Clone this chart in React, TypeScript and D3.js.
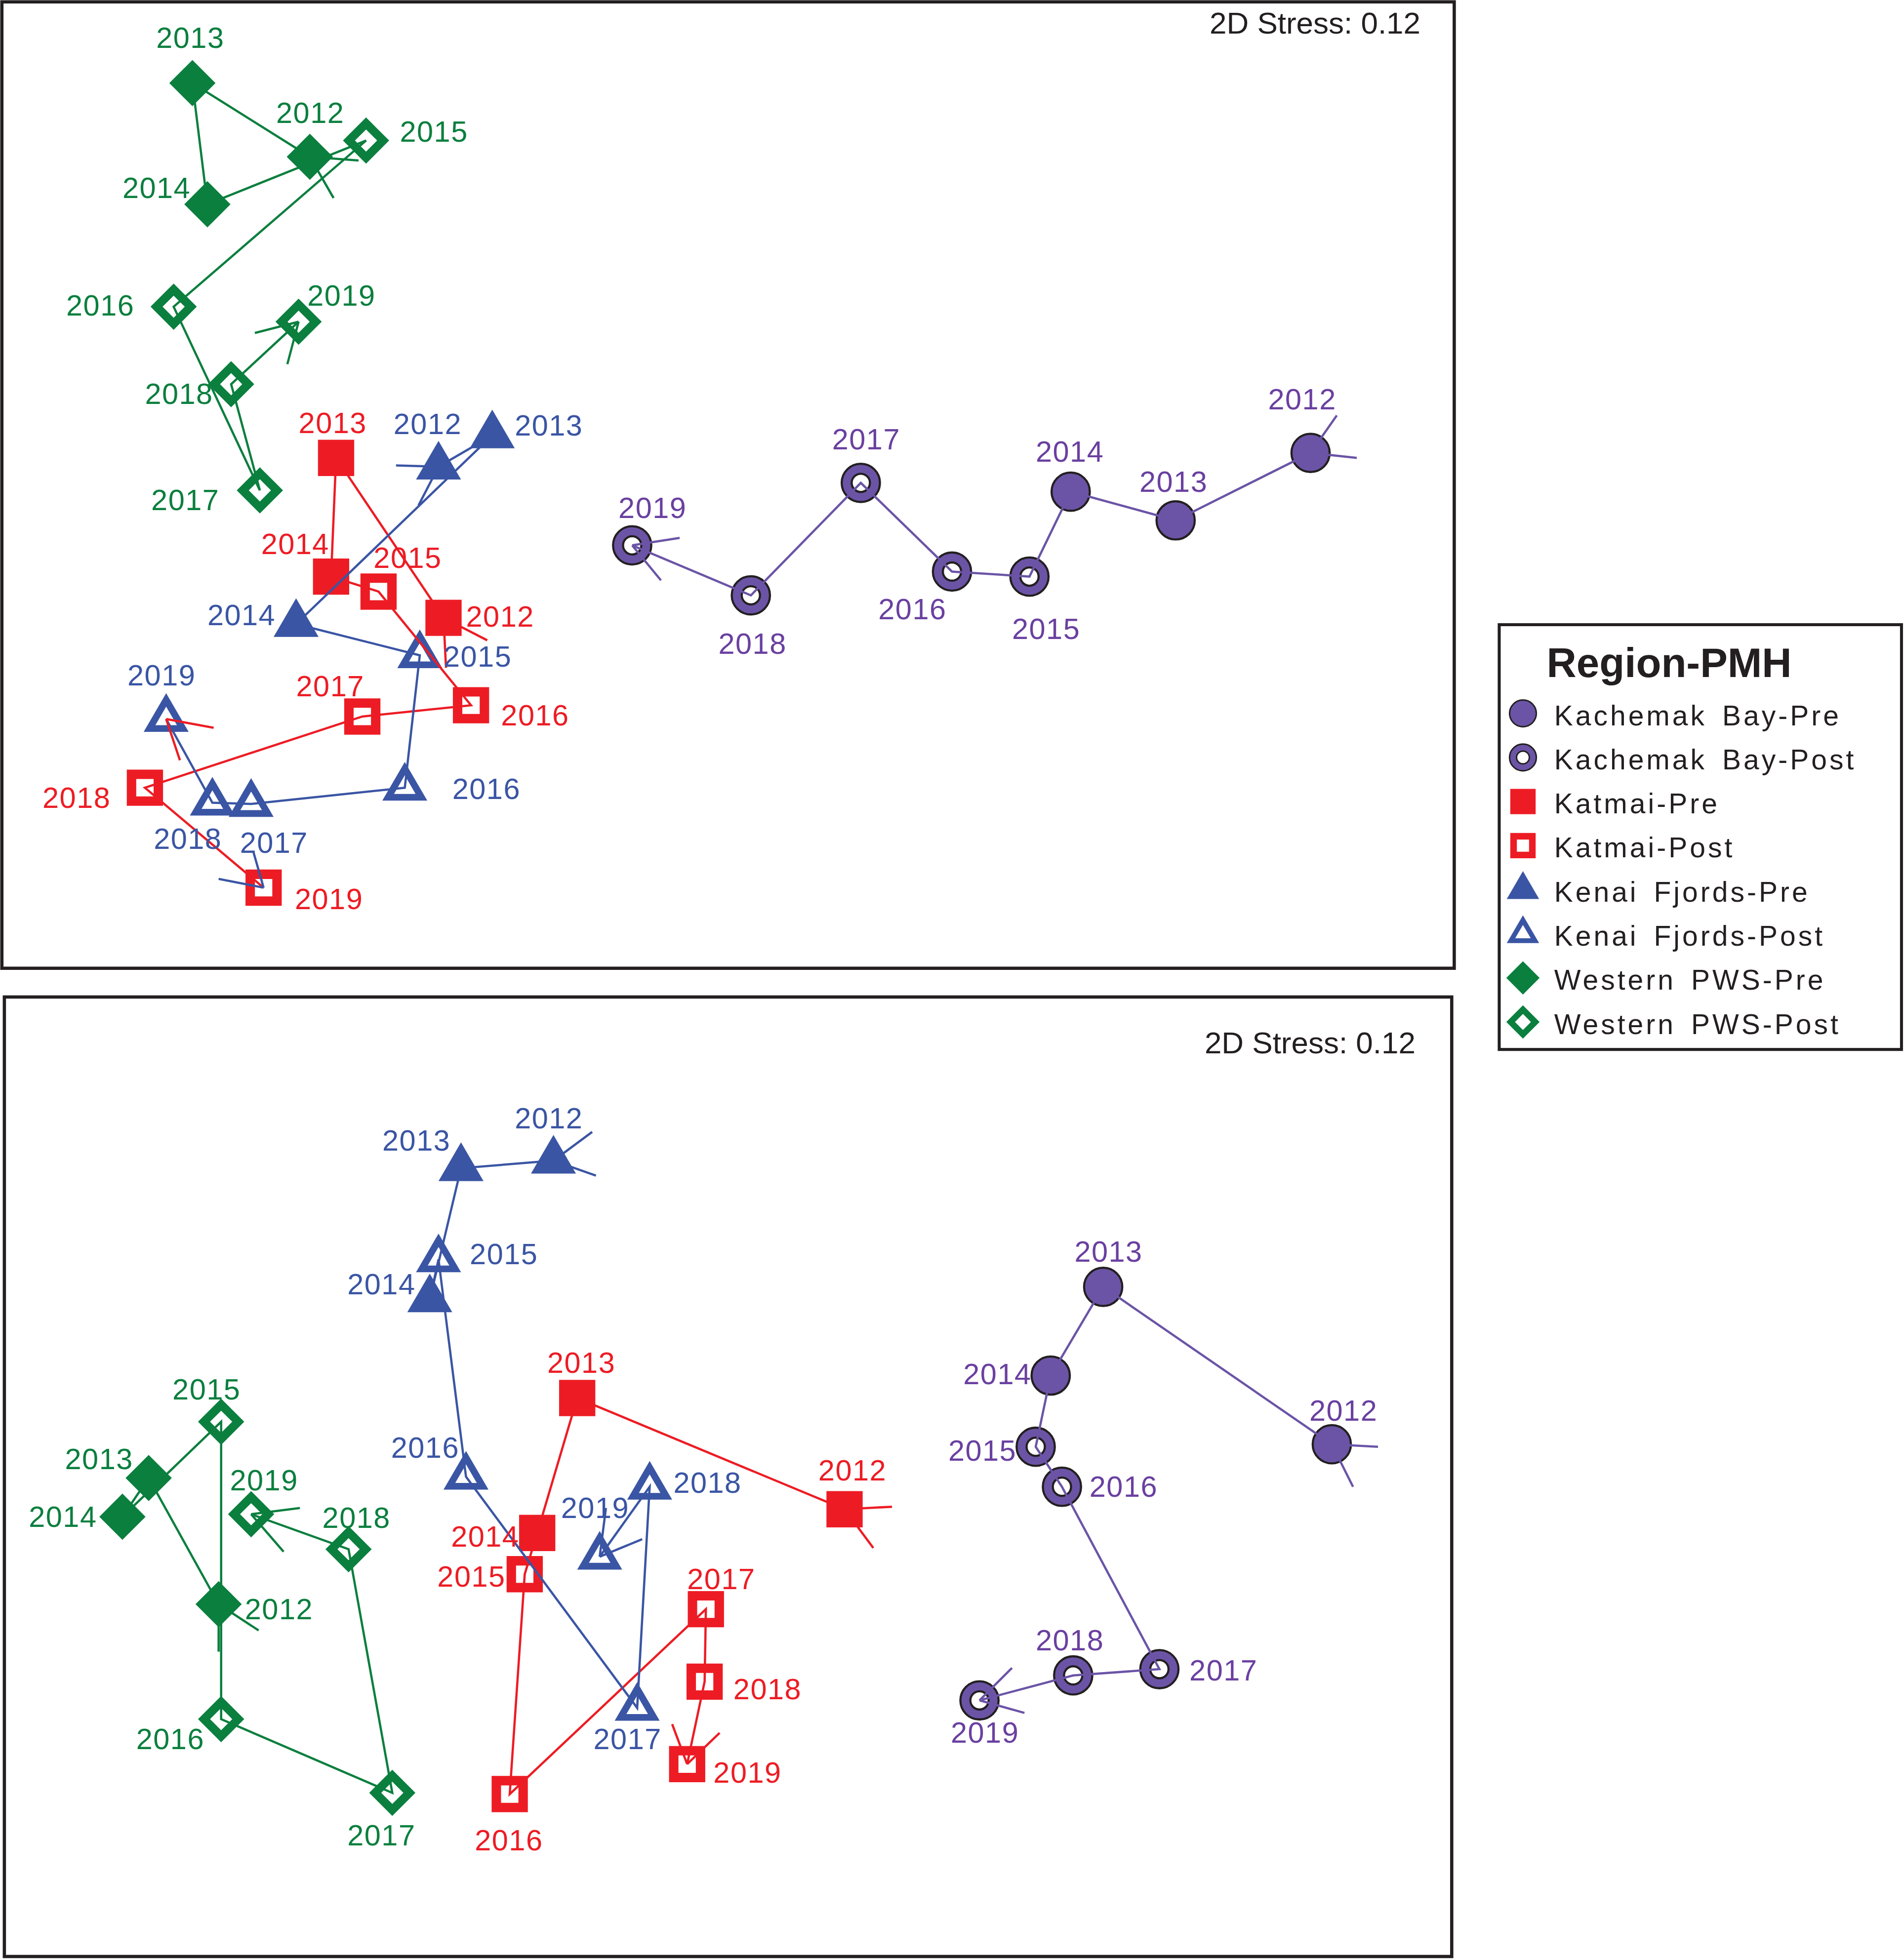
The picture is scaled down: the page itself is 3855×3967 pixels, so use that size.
import React from 'react';
import * as d3 from 'd3';

// sampling years; 2012-2014 are pre-heatwave, 2015-2019 post
const years = [2012, 2013, 2014, 2015, 2016, 2017, 2018, 2019];
const regions = ['Kachemak Bay', 'Katmai', 'Kenai Fjords', 'Western PWS'];
const firstPostYear = 2015;
const periods = ['Pre', 'Post'];
const legendTitle = 'Region-PMH';
const stressLabel = '2D Stress: 0.12';

// ordination coordinates, upper plot (plot units, y runs downwards)
const topKachemakX = [1049, 941, 857, 824, 762, 689, 601, 506];
const topKachemakY = [362, 416, 393, 461, 457, 386, 476, 436];
const topKatmaiX = [355, 269, 265, 303, 377, 290, 116, 211];
const topKatmaiY = [494, 366, 461, 473, 564, 573, 630, 710];
const topKenaiX = [351, 394, 237, 336, 324, 201, 170, 133];
const topKenaiY = [373, 348, 499, 524, 630, 643, 642, 575];
const topWesternX = [248, 154, 166, 293, 139, 208, 185, 239];
const topWesternY = [125, 66, 163, 112, 245, 392, 307, 257];

// ordination coordinates, lower plot
const botKachemakX = [1066, 883, 841, 829, 850, 928, 859, 784];
const botKachemakY = [359, 233, 304, 361, 393, 539, 544, 564];
const botKatmaiX = [676, 462, 430, 420, 408, 565, 564, 550];
const botKatmaiY = [411, 322, 430, 463, 639, 491, 549, 615];
const botKenaiX = [443, 369, 344, 351, 373, 510, 520, 480];
const botKenaiY = [132, 138, 243, 211, 385, 570, 393, 449];
const botWesternX = [175, 119, 98, 177, 177, 314, 279, 201];
const botWesternY = [487, 386, 417, 341, 579, 638, 443, 415];

// short end ticks of each trajectory (plot units)
const topEndTicks = [
  { region: 'Kachemak Bay', year: 2012, ends: [[1070, 332], [1086, 366]] },
  { region: 'Kachemak Bay', year: 2019, ends: [[544, 430], [529, 464]] },
  { region: 'Katmai', year: 2012, ends: [[390, 512], [357, 534]] },
  { region: 'Katmai', year: 2019, ends: [[175, 703], [203, 682]], ink: 'Kenai Fjords' },
  { region: 'Kenai Fjords', year: 2012, ends: [[317, 372], [335, 404]] },
  { region: 'Kenai Fjords', year: 2019, ends: [[171, 582], [144, 608]], ink: 'Katmai' },
  { region: 'Western PWS', year: 2012, ends: [[267, 158], [287, 128]] },
  { region: 'Western PWS', year: 2019, ends: [[204, 266], [230, 291]] },
];
const botEndTicks = [
  { region: 'Kachemak Bay', year: 2012, ends: [[1103, 361], [1083, 393]] },
  { region: 'Kachemak Bay', year: 2019, ends: [[810, 538], [820, 574]] },
  { region: 'Katmai', year: 2012, ends: [[714, 409], [699, 442]] },
  { region: 'Katmai', year: 2019, ends: [[538, 583], [576, 590]] },
  { region: 'Kenai Fjords', year: 2012, ends: [[474, 109], [477, 144]] },
  { region: 'Kenai Fjords', year: 2019, ends: [[514, 435], [485, 410]] },
  { region: 'Western PWS', year: 2012, ends: [[207, 508], [175, 525]] },
  { region: 'Western PWS', year: 2019, ends: [[240, 410], [227, 445]] },
];

const topData: Record<string, { x: number[]; y: number[] }> = {
  'Kachemak Bay': { x: topKachemakX, y: topKachemakY },
  Katmai: { x: topKatmaiX, y: topKatmaiY },
  'Kenai Fjords': { x: topKenaiX, y: topKenaiY },
  'Western PWS': { x: topWesternX, y: topWesternY },
};
const botData: Record<string, { x: number[]; y: number[] }> = {
  'Kachemak Bay': { x: botKachemakX, y: botKachemakY },
  Katmai: { x: botKatmaiX, y: botKatmaiY },
  'Kenai Fjords': { x: botKenaiX, y: botKenaiY },
  'Western PWS': { x: botWesternX, y: botWesternY },
};

// where each year label sits relative to its point (px: text start, baseline)
const topNudge: Record<string, number[][]> = {
  'Kachemak Bay': [[-34, -35], [-29, -23], [-28, -24], [-14, 50], [-59, 38], [-23, -27], [-26, 47], [-11, -22]],
  Katmai: [[18, 7], [-30, -20], [-56, -18], [-4, -19], [24, 16], [-53, -16], [-82, 16], [25, 17]],
  'Kenai Fjords': [[-36, -26], [18, 0], [-71, 1], [19, 9], [38, 9], [-9, 39], [-47, 37], [-31, -27]],
  'Western PWS': [[-27, -27], [-29, -28], [-68, -5], [27, 1], [-86, 7], [-87, 16], [-69, 16], [7, -13]],
};
const botNudge: Record<string, number[][]> = {
  'Kachemak Bay': [[-18, -19], [-23, -20], [-70, 7], [-70, 11], [22, 8], [24, 9], [-30, -20], [-23, 34]],
  Katmai: [[-21, -23], [-24, -20], [-69, 11], [-70, 10], [-28, 45], [-15, -16], [23, 14], [21, 15]],
  'Kenai Fjords': [[-31, -26], [-63, -14], [-66, -4], [25, 4], [-60, -15], [-35, 33], [19, 5], [-31, -31]],
  'Western PWS': [[21, 12], [-67, -7], [-75, 8], [-39, -18], [-68, 24], [-36, 42], [-21, -17], [-17, -19]],
};

const FONT = '"Liberation Sans", Arial, Helvetica, sans-serif';
const INK = '#231F20';
const colors: Record<string, string> = {
  'Kachemak Bay': '#6B54A6',
  Katmai: '#ED1C24',
  'Kenai Fjords': '#3A55A4',
  'Western PWS': '#0B7F3E',
};
const textColors: Record<string, string> = { ...colors, 'Kachemak Bay': '#6A40A0' };

// custom symbol shapes for d3.symbol
const squareType = {
  draw(ctx: any, size: number) {
    const s = Math.sqrt(size) / 2;
    ctx.moveTo(-s, -s);
    ctx.lineTo(s, -s);
    ctx.lineTo(s, s);
    ctx.lineTo(-s, s);
    ctx.closePath();
  },
};
const diamondType = {
  draw(ctx: any, size: number) {
    const r = Math.sqrt(size) / 2;
    ctx.moveTo(0, -r);
    ctx.lineTo(r, 0);
    ctx.lineTo(0, r);
    ctx.lineTo(-r, 0);
    ctx.closePath();
  },
};
const triangleType = {
  draw(ctx: any, size: number) {
    const w = Math.sqrt(size);
    const h = w * 0.86;
    ctx.moveTo(0, (-2 * h) / 3);
    ctx.lineTo(w / 2, h / 3);
    ctx.lineTo(-w / 2, h / 3);
    ctx.closePath();
  },
};
const shapeOf: Record<string, any> = {
  Katmai: { type: squareType, size: 29 * 29 },
  'Kenai Fjords': { type: triangleType, size: 36 * 36 },
  'Western PWS': { type: diamondType, size: 37 * 37 },
};

function Marker({ region, post, x, y, k = 1 }: { region: string; post: boolean; x: number; y: number; k?: number }) {
  if (region === 'Kachemak Bay') {
    return (
      <g transform={`translate(${x},${y})`}>
        <circle r={15.3 * k} fill={colors[region]} stroke={INK} strokeWidth={1.7 * k} />
        {post && <circle r={7.3 * k} fill="#fff" stroke={INK} strokeWidth={1.7 * k} />}
      </g>
    );
  }
  const spec = shapeOf[region];
  const outer = d3.symbol(spec.type, spec.size * k * k)() as string;
  const inner = d3.symbol(spec.type, spec.size * k * k * 0.23)() as string;
  return (
    <g transform={`translate(${x},${y})`}>
      <path d={outer} fill={colors[region]} />
      {post && <path d={inner} fill="#fff" />}
    </g>
  );
}

function Panel({ data, ticks, nudge, frame, yDomain, stressAt }: any) {
  const [x0, y0, x1, y1] = frame;
  const xs = d3.scaleLinear().domain([0, 1164]).range([0, 1164]);
  const ys = d3.scaleLinear().domain(yDomain).range([yDomain[0] + y0 - 1, yDomain[1] + y0 - 1]);
  const line = d3.line();

  return (
    <g>
      <rect x={x0} y={y0} width={x1 - x0} height={y1 - y0} fill="#fff" stroke={INK} strokeWidth={2.6} />
      <text x={stressAt[0]} y={stressAt[1]} textAnchor="end" fontFamily={FONT} fontSize={24.5} fill={INK}>
        {stressLabel}
      </text>
      {regions.map((r) =>
        years.map((yr, i) => (
          <Marker key={`${r}-${yr}`} region={r} post={yr >= firstPostYear} x={xs(data[r].x[i])} y={ys(data[r].y[i])} />
        ))
      )}
      {regions.map((r) => (
        <path
          key={`traj-${r}`}
          d={line(years.map((_, i) => [xs(data[r].x[i]), ys(data[r].y[i])])) as string}
          fill="none"
          stroke={colors[r]}
          strokeWidth={1.8}
        />
      ))}
      {ticks.map((t: any) =>
        t.ends.map((e: number[], j: number) => {
          const i = years.indexOf(t.year);
          return (
            <line
              key={`${t.region}-${t.year}-${j}`}
              x1={xs(data[t.region].x[i])}
              y1={ys(data[t.region].y[i])}
              x2={xs(e[0])}
              y2={ys(e[1])}
              stroke={colors[t.ink || t.region]}
              strokeWidth={1.8}
            />
          );
        })
      )}
      {regions.map((r) =>
        years.map((yr, i) => (
          <text
            key={`lab-${r}-${yr}`}
            x={xs(data[r].x[i]) + nudge[r][i][0]}
            y={ys(data[r].y[i]) + nudge[r][i][1]}
            fontFamily={FONT}
            fontSize={23.5}
            letterSpacing={0.6}
            fill={textColors[r]}
          >
            {yr}
          </text>
        ))
      )}
    </g>
  );
}

function Legend() {
  const entries = regions.flatMap((r) => periods.map((p) => ({ region: r, period: p })));
  const row = d3.scaleLinear().domain([0, entries.length - 1]).range([571, 818]);
  return (
    <g>
      <rect x={1200} y={500} width={322} height={340} fill="#fff" stroke={INK} strokeWidth={2.4} />
      <text x={1238} y={542} fontFamily={FONT} fontSize={33} fontWeight="bold" fill={INK}>
        {legendTitle}
      </text>
      {entries.map((e, i) => (
        <g key={`leg-${i}`}>
          <Marker region={e.region} post={e.period === 'Post'} x={1219} y={row(i)} k={e.region === 'Kenai Fjords' || e.region === 'Western PWS' ? 0.72 : 0.7} />
          <text
            x={1244}
            y={row(i) + 9.5}
            fontFamily={FONT}
            fontSize={22.5}
            letterSpacing={2}
            wordSpacing={4}
            fill={INK}
          >
            {`${e.region}-${e.period}`}
          </text>
        </g>
      ))}
    </g>
  );
}

export default function App() {
  return (
    <>
      <style>{'body{margin:0;background:#fff}svg{display:block}'}</style>
      <svg width={3855} height={3967} viewBox="0 0 1524 1568" preserveAspectRatio="none">
        <rect x={0} y={0} width={1524} height={1568} fill="#fff" />
        <Panel data={topData} ticks={topEndTicks} nudge={topNudge} frame={[1.5, 1.5, 1164, 775]} yDomain={[0, 775]} stressAt={[1137, 27]} />
        <Panel data={botData} ticks={botEndTicks} nudge={botNudge} frame={[3.5, 798, 1162, 1566]} yDomain={[0, 770]} stressAt={[1133, 843]} />
        <Legend />
      </svg>
    </>
  );
}
